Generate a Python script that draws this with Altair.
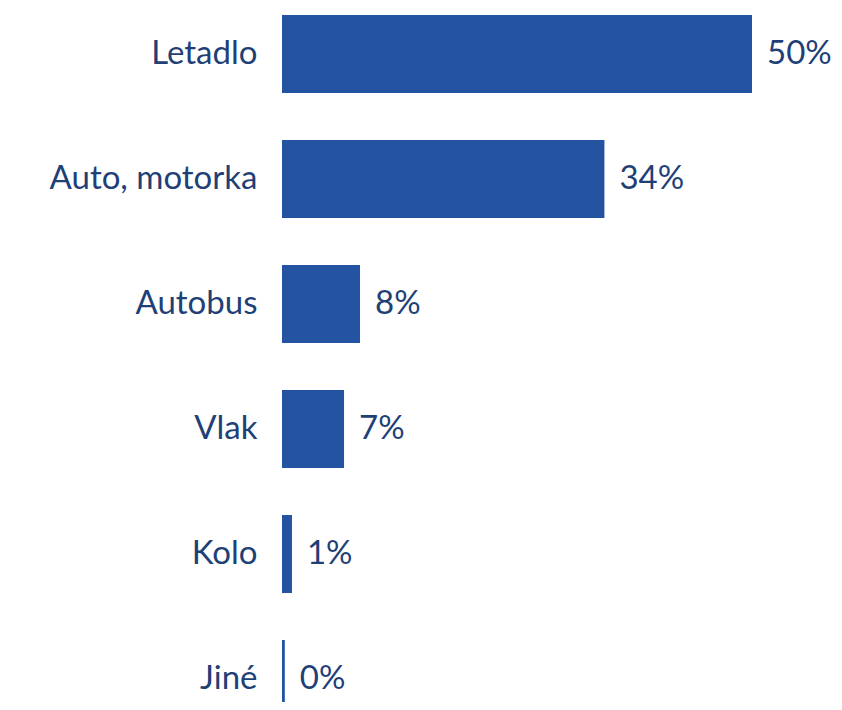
import altair as alt
import pandas as pd

categories = ["Letadlo", "Auto, motorka", "Autobus", "Vlak", "Kolo", "Jiné"]
values = [50, 34.3, 8.3, 6.6, 1.06, 0.3]
labels = ["50%", "34%", "8%", "7%", "1%", "0%"]

df = pd.DataFrame({"cat": categories, "val": values, "lab": labels})

BAR = "#2353A1"
TXT = "#1F3F77"
FONT = "Lato"
FS = 33

y = alt.Y(
    "cat:N",
    sort=categories,
    scale=alt.Scale(range=[-16.5, 733.5], paddingInner=0.376, paddingOuter=0.188),
    axis=alt.Axis(
        title=None, domain=False, ticks=False, labelPadding=25, grid=False,
        labelFontSize=FS, labelFont=FONT, labelColor=TXT, labelLimit=400,
        labelFontWeight="normal",
    ),
)
x = alt.X("val:Q", scale=alt.Scale(domain=[0, 50]), axis=None)

bars = alt.Chart(df).mark_bar(color=BAR, clip=True).encode(x=x, y=y)
text = alt.Chart(df).mark_text(
    align="left", baseline="middle", dx=15, fontSize=FS, font=FONT, color=TXT
).encode(x=x, y=y, text="lab:N")

chart = (
    (bars + text)
    .properties(
        width=470,
        height=694,
        background="white",
        autosize=alt.AutoSizeParams(type="none"),
        padding={"left": 274, "top": 0, "right": 82, "bottom": 0},
    )
    .configure_view(stroke=None, strokeWidth=0)
)

chart.save("out.html", embed_options={"renderer": "svg", "actions": False})
